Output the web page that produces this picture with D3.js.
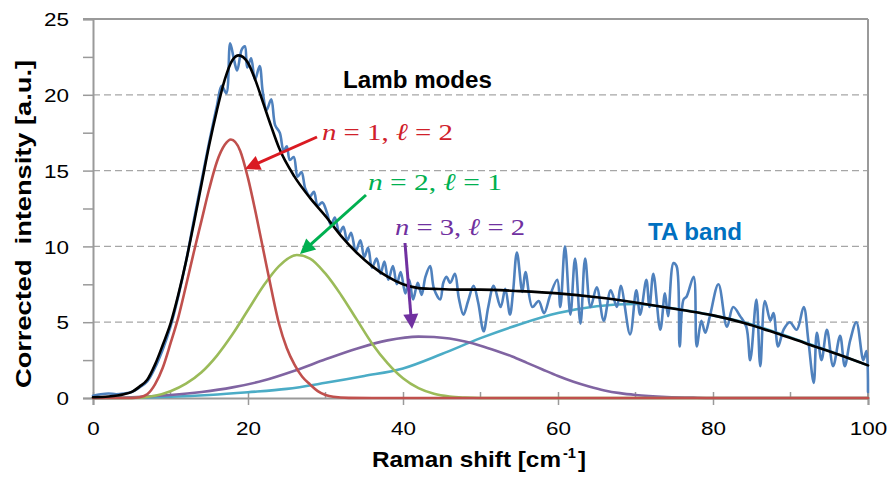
<!DOCTYPE html>
<html><head><meta charset="utf-8">
<script src="https://cdn.jsdelivr.net/npm/d3@7"></script>
<style>body{margin:0;background:#fff}svg{display:block}</style>
</head><body>
<svg id="c" width="892" height="486"></svg>
<script>
// ---------- data ----------
const xTicks = [0, 20, 40, 60, 80, 100];
const xMinorTicks = [10, 30, 50, 70, 90];
const yTicks = [0, 5, 10, 15, 20, 25];
const yMinorTicks = [2.5, 7.5, 12.5, 17.5, 22.5];
const gridValues = [5, 10, 15, 20];

// measured spectrum [Raman shift, intensity]
const measured = [[0,0.15],[1,0.25],[2,0.3],[3,0.25],[4,0.3],[5,0.4],[6,0.7],[7,1.1],[8,2.0],[9,3.2],[10,4.7],[11,6.7],[12,9.0],[13,11.7],[14,14.3],[15,16.9],[16,19.3],[16.6,20.6],[17.2,20.1],[17.7,23.4],[18.2,22.3],[18.6,21.6],[19.2,23.0],[19.6,23.2],[19.9,21.8],[20.4,22.4],[20.9,21.0],[21.5,21.9],[21.9,20.2],[22.4,19.0],[23.0,19.7],[23.5,18.0],[24.1,17.5],[24.6,16.3],[25.0,16.6],[25.4,15.7],[25.9,15.9],[26.4,14.6],[26.9,14.9],[27.4,13.8],[28.0,13.3],[28.5,13.6],[29.0,12.7],[29.6,12.9],[30.2,12.2],[30.7,11.4],[31.2,11.9],[31.8,10.9],[32.3,11.3],[32.8,10.4],[33.3,10.9],[33.9,9.7],[34.5,10.4],[35.0,9.3],[35.5,9.9],[36.0,8.6],[36.6,9.2],[37.1,8.2],[37.6,9.0],[38.1,7.8],[38.7,8.7],[39.2,7.5],[39.7,8.3],[40.3,6.9],[40.8,7.8],[41.3,6.5],[41.9,7.6],[42.4,6.8],[42.9,8.0],[43.5,8.7],[44.0,7.2],[44.8,6.5],[45.2,7.6],[45.6,8.0],[46.1,7.6],[46.7,8.2],[47.2,6.6],[47.8,5.5],[48.4,6.4],[49.1,7.4],[49.7,6.3],[50.4,4.4],[51.0,6.0],[51.7,7.4],[52.6,6.0],[53.2,7.2],[53.8,5.5],[54.2,7.0],[54.7,9.6],[55.4,7.0],[55.8,8.3],[56.7,6.0],[57.5,6.4],[58.2,5.6],[59.0,6.8],[59.9,7.8],[60.3,6.0],[60.9,10.0],[61.6,5.5],[62.2,9.2],[62.9,4.9],[63.5,9.2],[64.2,6.0],[65.0,7.3],[65.9,5.1],[66.8,7.1],[67.6,6.0],[68.1,7.4],[69.3,4.2],[70.1,7.1],[70.6,5.5],[71.4,7.8],[71.8,6.0],[72.3,8.2],[73.2,4.5],[73.8,6.9],[74.2,5.4],[74.9,8.9],[75.3,8.7],[75.7,3.4],[76.2,6.5],[76.6,6.7],[77.5,8.0],[77.9,3.4],[78.5,5.1],[79.0,4.3],[79.6,5.4],[80.7,7.5],[81.8,4.7],[82.6,6.0],[83.5,5.4],[84.3,4.7],[84.8,2.5],[85.6,6.5],[86.1,2.1],[86.7,6.4],[87.4,5.1],[87.8,5.6],[88.4,3.4],[89.1,4.5],[89.9,5.0],[90.8,4.5],[91.7,6.0],[92.3,3.8],[93.0,1.0],[93.4,4.3],[94.0,2.5],[94.7,4.5],[95.5,2.1],[96.4,4.1],[97.0,2.1],[97.7,3.8],[98.5,5.0],[99.4,2.5],[99.8,3.1],[100,0.4]];

// total fit (black)
const fit = [[0,0.05],[2,0.1],[4,0.25],[5,0.4],[6,0.75],[7,1.2],[8,2.2],[9,3.5],[10,4.9],[11,6.8],[12,9.0],[13,11.5],[14,14.1],[15,16.7],[16,19.0],[17,21.0],[18,22.3],[18.8,22.6],[20,22.1],[21,20.9],[22,19.4],[23,17.9],[24,16.5],[26,14.6],[28,13.2],[30,12.0],[32,10.7],[34,9.6],[36,8.7],[38,8.0],[40,7.5],[42,7.25],[44,7.2],[47,7.15],[50,7.15],[55,7.05],[60,6.9],[65,6.65],[70,6.3],[73,6.05],[76,5.8],[80,5.45],[84,4.95],[88,4.3],[92,3.6],[96,2.9],[100,2.15]];

// Lamb mode n=1, l=2 (red)
const mode1 = [[0,0],[5,0],[6,0.05],[7,0.25],[8,0.9],[9,2.0],[10,3.6],[11,5.3],[12,7.4],[13,9.6],[14,11.7],[15,13.8],[16,15.6],[17,16.7],[17.8,17.05],[19,16.3],[20,14.5],[21,12.2],[22,9.7],[23,7.2],[24,4.9],[25,3.3],[26,2.2],[27,1.4],[28,0.9],[29,0.45],[30,0.2],[31,0.08],[33,0.01],[36,0],[100,0]];
// Lamb mode n=2, l=1 (green)
const mode2 = [[0,0],[5,0],[8,0.15],[10,0.45],[12,0.95],[14,1.7],[16,2.8],[18,4.2],[20,5.8],[22,7.4],[24,8.7],[26.3,9.43],[28,9.2],[30,8.2],[32,6.8],[34,5.2],[36,3.6],[38,2.3],[40,1.3],[42,0.65],[44,0.28],[46,0.1],[48,0.03],[50,0],[100,0]];
// Lamb mode n=3, l=2 (purple)
const mode3 = [[0,0],[5,0.05],[10,0.2],[14,0.4],[18,0.7],[22,1.15],[26,1.8],[30,2.55],[34,3.25],[38,3.8],[42,4.05],[44,4.02],[46,3.92],[48,3.72],[50,3.45],[52,3.12],[54,2.75],[56,2.32],[58,1.88],[60,1.45],[62,1.07],[64,0.76],[66,0.5],[68,0.32],[70,0.2],[74,0.07],[78,0.02],[82,0],[100,0]];
// TA band (cyan)
const taBand = [[0,0],[5,0.02],[10,0.08],[15,0.2],[20,0.38],[25,0.6],[30,1.0],[35,1.45],[40,1.95],[45,2.9],[50,3.95],[55,4.85],[60,5.6],[65,6.05],[70,6.2],[75,5.9],[80,5.45],[85,4.85],[90,4.0],[95,3.1],[100,2.15]];

// ---------- chart ----------
const svg = d3.select("#c");
const x = d3.scaleLinear().domain([0, 100]).range([93, 868]);
const y = d3.scaleLinear().domain([0, 25]).range([398, 19]);
const axisCol = "#9a9a9a";
const SANS = "'Liberation Sans', Arial, sans-serif";
const SERIF = "'Liberation Serif', 'DejaVu Serif', serif";

// gridlines
svg.append("g").selectAll("line").data(gridValues).join("line")
  .attr("x1", x(0)).attr("x2", x(100))
  .attr("y1", d => y(d)).attr("y2", d => y(d))
  .attr("stroke", "#a6a6a6").attr("stroke-width", 1.3).attr("stroke-dasharray", "7,4");

// frame: top and right
svg.append("line").attr("x1", x(0) - 10).attr("x2", x(100)).attr("y1", y(25)).attr("y2", y(25))
  .attr("stroke", axisCol).attr("stroke-width", 2);
svg.append("line").attr("x1", x(100)).attr("x2", x(100)).attr("y1", y(25)).attr("y2", y(0))
  .attr("stroke", axisCol).attr("stroke-width", 2);

// y axis
const yAxis = d3.axisLeft(y).tickValues(yTicks.concat(yMinorTicks)).tickSize(10).tickPadding(14)
  .tickFormat(d => yTicks.includes(d) ? d : "");
const gy = svg.append("g").attr("transform", `translate(${x(0)},0)`).call(yAxis);
gy.select(".domain").attr("stroke", axisCol).attr("stroke-width", 2);
gy.selectAll(".tick line").attr("stroke", axisCol).attr("stroke-width", 1.5);
gy.selectAll(".tick text").attr("font-family", SANS).attr("font-size", 18.5).attr("fill", "#000")
  .attr("dy", "0.36em")
  .each(function(d){ const t = String(d); if (t && yTicks.includes(d)) d3.select(this).attr("textLength", 12.5 * t.length).attr("lengthAdjust", "spacingAndGlyphs"); });

// x axis
const xAxis = d3.axisBottom(x).tickValues(xTicks).tickSize(7).tickPadding(24);
const gx = svg.append("g").attr("transform", `translate(0,${y(0)})`).call(xAxis);
gx.select(".domain").attr("stroke", axisCol).attr("stroke-width", 2);
gx.selectAll(".tick line").attr("stroke", axisCol).attr("stroke-width", 1.5).attr("y1", -6);
gx.selectAll(".tick text").attr("font-family", SANS).attr("font-size", 18.5).attr("fill", "#000")
  .attr("y", 37).attr("dy", 0)
  .each(function(d){ const t = String(d); d3.select(this).attr("textLength", 12.5 * t.length).attr("lengthAdjust", "spacingAndGlyphs"); });
svg.append("g").selectAll("line").data(xMinorTicks).join("line")
  .attr("x1", d => x(d)).attr("x2", d => x(d)).attr("y1", y(0) - 6).attr("y2", y(0))
  .attr("stroke", axisCol).attr("stroke-width", 1.5);

// curves
const smooth = d3.line().x(d => x(d[0])).y(d => y(d[1])).curve(d3.curveMonotoneX);
const noisy = d3.line().x(d => x(d[0])).y(d => y(d[1])).curve(d3.curveCatmullRom.alpha(0.5));
const series = [
  {data: taBand, color: "#4BACC6", line: smooth, w: 2.6},
  {data: mode3, color: "#8064A2", line: smooth, w: 2.6},
  {data: mode2, color: "#9BBB59", line: smooth, w: 2.6},
  {data: mode1, color: "#C0504D", line: smooth, w: 2.6},
  {data: measured, color: "#4F81BD", line: noisy, w: 2.6},
  {data: fit, color: "#000000", line: smooth, w: 2.6}
];
svg.append("g").selectAll("path").data(series).join("path")
  .attr("d", s => s.line(s.data)).attr("fill", "none")
  .attr("stroke", s => s.color).attr("stroke-width", s => s.w)
  .attr("stroke-linejoin", "round").attr("stroke-linecap", "round");

// arrows
function arrow(x1, y1, x2, y2, color) {
  const dx = x2 - x1, dy = y2 - y1, L = Math.hypot(dx, dy), ux = dx / L, uy = dy / L;
  const hl = 15, hw = 7.5;
  const bx = x2 - ux * hl, by = y2 - uy * hl;
  svg.append("line").attr("x1", x1).attr("y1", y1).attr("x2", bx + ux * 2).attr("y2", by + uy * 2)
    .attr("stroke", color).attr("stroke-width", 3);
  svg.append("polygon").attr("points",
    `${x2},${y2} ${bx - uy * hw},${by + ux * hw} ${bx + uy * hw},${by - ux * hw}`).attr("fill", color);
}
arrow(317, 137, 245, 169, "#DA1A22");
arrow(366, 195, 300, 254, "#00B050");
arrow(405, 243, 412, 329, "#7030A0");

// labels
function mathLabel(xp, yp, w, nVal, lVal, color) {
  const t = svg.append("text").attr("x", xp).attr("y", yp).attr("font-family", SERIF)
    .attr("font-size", 24).attr("fill", color).attr("textLength", w).attr("lengthAdjust", "spacingAndGlyphs");
  t.append("tspan").attr("font-style", "italic").text("n");
  t.append("tspan").text(" = " + nVal + ", ");
  t.append("tspan").attr("font-style", "italic").text("\u2113");
  t.append("tspan").text(" = " + lVal);
}
mathLabel(322, 140, 131, 1, 2, "#D0202A");
mathLabel(368, 190, 134, 2, 1, "#00B050");
mathLabel(395, 235, 130, 3, 2, "#7030A0");

svg.append("text").attr("x", 343).attr("y", 88).attr("font-family", SANS).attr("font-weight", "bold")
  .attr("font-size", 23).attr("textLength", 149).attr("lengthAdjust", "spacingAndGlyphs").text("Lamb modes");
svg.append("text").attr("x", 648).attr("y", 240).attr("font-family", SANS).attr("font-weight", "bold")
  .attr("font-size", 23).attr("fill", "#0070C0").attr("textLength", 94).attr("lengthAdjust", "spacingAndGlyphs").text("TA band");

// axis titles
const xtBase = 467;
svg.append("text").attr("x", 372).attr("y", xtBase).attr("font-family", SANS).attr("font-weight", "bold")
  .attr("font-size", 22.5).attr("textLength", 189).attr("lengthAdjust", "spacingAndGlyphs").text("Raman shift [cm");
svg.append("text").attr("x", 563).attr("y", xtBase - 9).attr("font-family", SANS).attr("font-weight", "bold")
  .attr("font-size", 14).attr("textLength", 13).attr("lengthAdjust", "spacingAndGlyphs").text("-1");
svg.append("text").attr("x", 578).attr("y", xtBase).attr("font-family", SANS).attr("font-weight", "bold")
  .attr("font-size", 22.5).attr("textLength", 8).attr("lengthAdjust", "spacingAndGlyphs").text("]");

svg.append("text").attr("transform", "translate(31,224) rotate(-90)").attr("text-anchor", "middle")
  .attr("font-family", SANS).attr("font-weight", "bold").attr("font-size", 22.5)
  .attr("textLength", 328).attr("lengthAdjust", "spacingAndGlyphs")
  .style("white-space", "pre").text("Corrected  intensity [a.u.]");
</script>
</body></html>
